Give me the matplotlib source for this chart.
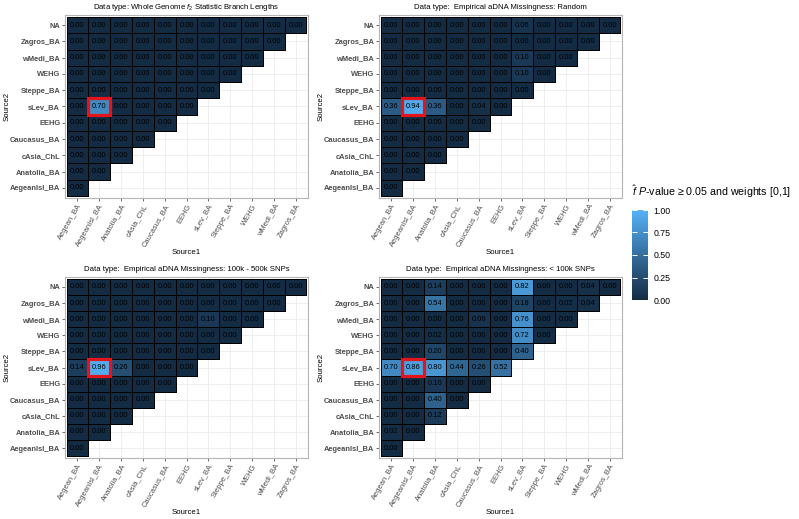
import numpy as np
import matplotlib
matplotlib.use('Agg')
import matplotlib.pyplot as plt
from matplotlib.colors import LinearSegmentedColormap, Normalize
from matplotlib.cm import ScalarMappable
from matplotlib.patches import Rectangle

plt.rcParams['font.family'] = ['Liberation Sans', 'DejaVu Sans']
plt.rcParams['mathtext.fontset'] = 'custom'
plt.rcParams['mathtext.rm'] = 'Liberation Sans'
plt.rcParams['mathtext.it'] = 'Liberation Sans:italic'

# x categories (Source1) and y categories (Source2, bottom -> top)
source1 = ['Aegean_BA', 'AegeanIsl_BA', 'Anatolia_BA', 'cAsia_ChL', 'Caucasus_BA', 'EEHG',
           'sLev_BA', 'Steppe_BA', 'WEHG', 'wMedi_BA', 'Zagros_BA']
source2 = ['AegeanIsl_BA', 'Anatolia_BA', 'cAsia_ChL', 'Caucasus_BA', 'EEHG', 'sLev_BA',
           'Steppe_BA', 'WEHG', 'wMedi_BA', 'Zagros_BA', 'NA']

titles = ['Data type: Whole Genome $f_2$ Statistic Branch Lengths',
          'Data type:  Empirical aDNA Missingness: Random',
          'Data type:  Empirical aDNA Missingness: 100k - 500k SNPs',
          'Data type:  Empirical aDNA Missingness: < 100k SNPs']

# one list per Source2 row, bottom row first
whole_genome = [
    [0.00],
    [0.00, 0.00],
    [0.00, 0.00, 0.00],
    [0.00, 0.00, 0.00, 0.00],
    [0.00, 0.00, 0.00, 0.00, 0.00],
    [0.00, 0.70, 0.00, 0.00, 0.00, 0.00],
    [0.00, 0.00, 0.00, 0.00, 0.00, 0.00, 0.00],
    [0.00, 0.00, 0.00, 0.00, 0.00, 0.00, 0.00, 0.00],
    [0.00, 0.00, 0.00, 0.00, 0.00, 0.00, 0.00, 0.00, 0.00],
    [0.00, 0.00, 0.00, 0.00, 0.00, 0.00, 0.00, 0.00, 0.00, 0.00],
    [0.00, 0.00, 0.00, 0.00, 0.00, 0.00, 0.00, 0.00, 0.00, 0.00, 0.00],
]
miss_random = [
    [0.00],
    [0.00, 0.00],
    [0.00, 0.00, 0.00],
    [0.00, 0.00, 0.00, 0.00],
    [0.00, 0.00, 0.00, 0.00, 0.00],
    [0.36, 0.94, 0.36, 0.00, 0.04, 0.00],
    [0.00, 0.00, 0.00, 0.00, 0.00, 0.00, 0.00],
    [0.00, 0.00, 0.00, 0.00, 0.00, 0.00, 0.10, 0.00],
    [0.00, 0.00, 0.00, 0.00, 0.00, 0.00, 0.10, 0.00, 0.00],
    [0.00, 0.00, 0.00, 0.00, 0.00, 0.00, 0.00, 0.00, 0.00, 0.00],
    [0.00, 0.00, 0.00, 0.00, 0.00, 0.00, 0.06, 0.00, 0.00, 0.00, 0.00],
]
miss_100k_500k = [
    [0.00],
    [0.00, 0.00],
    [0.00, 0.00, 0.00],
    [0.00, 0.00, 0.00, 0.00],
    [0.00, 0.00, 0.00, 0.00, 0.00],
    [0.14, 0.96, 0.26, 0.00, 0.00, 0.00],
    [0.00, 0.00, 0.00, 0.00, 0.00, 0.00, 0.00],
    [0.00, 0.00, 0.00, 0.00, 0.00, 0.00, 0.00, 0.00],
    [0.00, 0.00, 0.00, 0.00, 0.00, 0.00, 0.10, 0.00, 0.00],
    [0.00, 0.00, 0.00, 0.00, 0.00, 0.00, 0.00, 0.00, 0.00, 0.00],
    [0.00, 0.00, 0.00, 0.00, 0.00, 0.00, 0.00, 0.00, 0.00, 0.00, 0.00],
]
miss_lt_100k = [
    [0.00],
    [0.02, 0.00],
    [0.00, 0.00, 0.12],
    [0.00, 0.00, 0.40, 0.00],
    [0.00, 0.00, 0.10, 0.00, 0.00],
    [0.70, 0.86, 0.80, 0.44, 0.26, 0.52],
    [0.00, 0.00, 0.20, 0.00, 0.00, 0.00, 0.40],
    [0.00, 0.00, 0.02, 0.00, 0.00, 0.00, 0.72, 0.00],
    [0.00, 0.00, 0.00, 0.00, 0.06, 0.00, 0.76, 0.00, 0.00],
    [0.00, 0.00, 0.54, 0.00, 0.00, 0.00, 0.18, 0.00, 0.02, 0.04],
    [0.00, 0.00, 0.14, 0.00, 0.00, 0.00, 0.82, 0.00, 0.00, 0.04, 0.00],
]
panels = [whole_genome, miss_random, miss_100k_500k, miss_lt_100k]
highlight = ('AegeanIsl_BA', 'sLev_BA')

W, H = 799, 519
cmap = LinearSegmentedColormap.from_list('gg', ['#132B43', '#56B1F7'])
norm = Normalize(0, 1)


def px(x0, y0, x1, y1):
    # pixel box (top-left origin) -> figure fraction rect
    return [x0 / W, 1 - y1 / H, (x1 - x0) / W, (y1 - y0) / H]


fig = plt.figure(figsize=(W / 100, H / 100), dpi=100)
boxes = [(65, 15, 308, 198), (379, 15, 622, 198),
         (65, 277, 308, 458), (379, 277, 622, 458)]

for k, vals in enumerate(panels):
    x0, y0, x1, y1 = boxes[k]
    ax = fig.add_axes(px(x0, y0, x1, y1))
    ax.set_xticks(range(len(source1)))
    ax.set_yticks(range(len(source2)))
    ax.grid(True, color='#EBEBEB', lw=0.6)
    ax.set_axisbelow(True)
    xedges = np.arange(len(source1) + 1) - 0.5
    for i, row in enumerate(vals):
        # only the filled part of each row (lower triangle)
        ax.pcolormesh(xedges[:len(row) + 1], [i - 0.5, i + 0.5], np.array([row]),
                      cmap=cmap, norm=norm, edgecolors='black', linewidth=0.5,
                      zorder=2)
        for j, v in enumerate(row):
            ax.text(j, i, '%.2f' % v, ha='center', va='center', fontsize=5.4,
                    color='black', zorder=3)
    hx = source1.index(highlight[0])
    hy = source2.index(highlight[1])
    ax.add_patch(Rectangle((hx - 0.5, hy - 0.5), 1, 1, fill=False,
                           edgecolor='#E4141B', lw=2.3, zorder=4))
    ax.set_xlim(-0.57, len(source1) - 0.43)
    ax.set_ylim(-0.62, len(source2) - 0.38)
    ax.set_xticklabels(source1, rotation=60, ha='right', va='top',
                       rotation_mode='anchor', fontsize=5.4, color='#4D4D4D')
    ax.set_yticklabels(source2, fontsize=5.4, color='#4D4D4D', fontweight='bold')
    ax.tick_params(length=2, width=0.5, color='#333333', pad=1.5)
    for s in ax.spines.values():
        s.set_color('#B5B5B5')
        s.set_linewidth(0.8)
    ax.set_title(titles[k], fontsize=5.6, pad=4)
    fig.text((x0 + x1) / 2 / W, 1 - (y1 + 55) / H, 'Source1', ha='center',
             va='center', fontsize=5.6)
    fig.text((x0 - 58) / W, 1 - (y0 + y1) / 2 / H, 'Source2', ha='center',
             va='center', rotation=90, fontsize=5.6)

# legend
fig.text(632 / W, 1 - 192 / H, r'$\hat{f}$ $P$-value ≥ 0.05 and weights [0,1]',
         ha='left', va='center', fontsize=7.7)
cax = fig.add_axes(px(632, 210, 648, 300))
cb = fig.colorbar(ScalarMappable(norm=norm, cmap=cmap), cax=cax,
                  ticks=[0, 0.25, 0.5, 0.75, 1.0], format='%.2f')
cb.outline.set_visible(False)
cax.tick_params(direction='in', color='white', length=3.5, width=0.7,
                left=True, right=True, labelsize=6.3, pad=4)

fig.savefig('out.png', dpi=100)
